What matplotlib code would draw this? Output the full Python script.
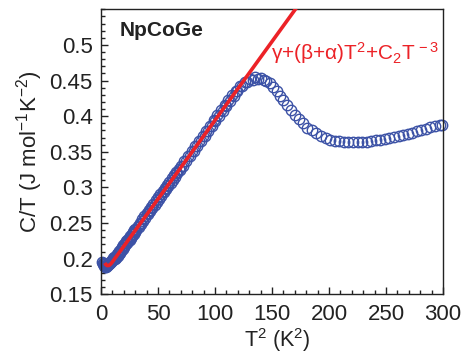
import matplotlib
matplotlib.use("Agg")
import matplotlib.pyplot as plt
from matplotlib.ticker import MultipleLocator

plt.rcParams['font.family'] = ['Liberation Sans', 'DejaVu Sans']
plt.rcParams['mathtext.fontset'] = 'custom'
plt.rcParams['mathtext.rm'] = 'Liberation Sans'
plt.rcParams['mathtext.it'] = 'Liberation Sans:italic'
plt.rcParams['mathtext.bf'] = 'Liberation Sans:bold'

# measured data: T^2 (K^2) and C/T (J mol^-1 K^-2)
t2_data = [1.2, 1.6, 2.0, 2.4, 2.8, 3.2, 3.6, 4.0, 4.4, 4.8, 5.2, 5.6, 6.0,
           6.4, 6.8, 7.2, 7.6, 8.0, 8.5, 9.0, 9.5, 10.0, 10.5, 11.0, 11.5,
           12.0, 12.5, 13.0, 13.5, 14.0, 14.5, 15.0, 15.5, 16.0, 16.6, 17.2,
           17.8, 18.4, 19.0, 19.6, 20.2, 20.8, 21.4, 22.0, 22.6, 23.2, 23.8,
           24.4, 25.0, 25.6, 26.2, 26.8, 27.4, 28.0, 28.6, 29.2, 29.8,
           30.0, 31.0, 32.0, 33.0, 34.0, 35.0, 36.0, 37.0, 38.0, 39.0, 40.0,
           41.0, 42.0, 43.0, 44.0, 45.0, 46.0, 47.0, 48.0, 49.0, 50.0, 51.0,
           52.0, 53.0, 54.0, 55.0, 56.0, 57.0, 58.0, 59.0, 60.0, 61.0, 62.0,
           63.0, 64.0, 65.0, 66.0, 67.0, 68.0, 69.0, 70.0,
           71.6, 73.2, 74.8, 76.4, 78.0, 79.6, 81.2, 82.8, 84.4, 86.0, 87.6,
           89.2, 90.8, 92.4, 94.0, 95.6, 97.2, 98.8, 100.4, 102.0, 103.6,
           105.2, 106.8, 108.4, 110.0, 111.6, 113.2, 114.8, 116.4, 118.0,
           119.6, 121.5, 123.8, 126.1, 128.4, 130.7, 133.0, 135.4, 137.8,
           140.2, 142.6, 145.0, 148.0, 151.0, 154.0, 157.0, 160.0, 163.5,
           167.0, 170.5, 174.0, 177.5, 181.0, 185.0, 189.0, 193.0, 197.0,
           201.0, 205.0, 209.0, 213.0, 217.0, 221.0, 225.0, 229.0, 233.0,
           237.0, 241.0, 245.0, 249.0, 253.0, 257.0, 261.0, 265.0, 269.0,
           273.0, 277.0, 281.0, 285.0, 289.0, 293.0, 297.0, 299.0]
ct_data = [0.195, 0.192, 0.194, 0.190, 0.193, 0.189, 0.192, 0.189, 0.191,
           0.1895, 0.1915, 0.190, 0.1925, 0.191, 0.1935, 0.192, 0.1945,
           0.1935, 0.1965, 0.195, 0.1985, 0.197, 0.2005, 0.199, 0.2025,
           0.2015, 0.1995, 0.2040, 0.2015, 0.2062, 0.2037, 0.2085, 0.2060,
           0.2108, 0.2083, 0.2135, 0.2110, 0.2162, 0.2136, 0.2188, 0.2162,
           0.2215, 0.2189, 0.2242, 0.2215, 0.2268, 0.2242, 0.2295, 0.2268,
           0.2322, 0.2295, 0.2348, 0.2321, 0.2375, 0.2348, 0.2401, 0.2374,
           0.2418, 0.2400, 0.2462, 0.2444, 0.2507, 0.2488, 0.2552, 0.2533,
           0.2596, 0.2577, 0.2640, 0.2621, 0.2685, 0.2665, 0.2729, 0.2709,
           0.2773, 0.2754, 0.2817, 0.2798, 0.2861, 0.2842, 0.2905, 0.2886,
           0.2950, 0.2930, 0.2994, 0.2975, 0.3038, 0.3019, 0.3082, 0.3063,
           0.3126, 0.3107, 0.3171, 0.3151, 0.3215, 0.3196, 0.3259, 0.3240,
           0.3303,
           0.3297, 0.3374, 0.3368, 0.3445, 0.3439, 0.3516, 0.3510, 0.3587,
           0.3580, 0.3657, 0.3651, 0.3728, 0.3722, 0.3799, 0.3792, 0.3869,
           0.3863, 0.3940, 0.3934, 0.4010, 0.4005, 0.4081, 0.4075, 0.4152,
           0.4146, 0.4222, 0.4217, 0.4292, 0.4287, 0.4360, 0.4355,
           0.4425, 0.4420, 0.4485, 0.4475, 0.4525, 0.4510, 0.4545, 0.4525,
           0.4535, 0.4505, 0.4495, 0.446, 0.441, 0.435, 0.429, 0.423, 0.416,
           0.409, 0.402, 0.396, 0.390, 0.384, 0.380, 0.376, 0.372, 0.369,
           0.367, 0.3655, 0.3645, 0.364, 0.3635, 0.3635, 0.3635, 0.3637,
           0.364, 0.3648, 0.366, 0.367, 0.368, 0.3695, 0.371, 0.3725, 0.374,
           0.3755, 0.377, 0.379, 0.3805, 0.382, 0.3845, 0.386, 0.3875, 0.388]

# fitted curve
t2_fit = [3.3, 4.3, 5.5, 7.0, 8.5, 10.0, 12.0, 15.0, 20.0, 30.0, 50.0, 75.0,
          100.0, 125.0, 150.0, 170.0, 172.0]
ct_fit = [0.194, 0.1915, 0.1903, 0.1905, 0.1925, 0.1955, 0.200, 0.2065,
          0.2175, 0.2396, 0.2838, 0.3390, 0.3943, 0.4495, 0.5048, 0.549,
          0.5534]

y_ticks = [0.15, 0.2, 0.25, 0.3, 0.35, 0.4, 0.45, 0.5]
y_tick_labels = ['0.15', '0.2', '0.25', '0.3', '0.35', '0.4', '0.45', '0.5']
sample_label = "NpCoGe"
fit_label = r"$\mathrm{γ{+}(β{+}α)T^2{+}C_2T^{\,-3}}$"

fig = plt.figure(figsize=(4.63, 3.54), dpi=100)
ax = fig.add_axes([0.2182, 0.1686, 0.9568 - 0.2182, 0.9737 - 0.1686])

ax.plot(t2_data, ct_data, linestyle='none', marker='o', markersize=7.5,
        markerfacecolor='none', markeredgecolor='#3c52a6', markeredgewidth=1.0,
        clip_on=False, zorder=2)
ax.plot(t2_fit, ct_fit, color='#ec2227', linewidth=2.6, zorder=3,
        solid_capstyle='butt')

ax.set_xlim(0, 300)
ax.set_ylim(0.15, 0.55)
ax.xaxis.set_major_locator(MultipleLocator(50))
ax.xaxis.set_minor_locator(MultipleLocator(10))
ax.yaxis.set_minor_locator(MultipleLocator(0.01))
ax.set_yticks(y_ticks)
ax.set_yticklabels(y_tick_labels)
ax.tick_params(which='both', direction='in', top=False, right=False,
               labelsize=16, colors='#222222', width=1.0)
ax.tick_params(which='major', length=5, pad=6)
ax.tick_params(axis='x', which='major', pad=7)
ax.tick_params(which='minor', length=3)
for s in ax.spines.values():
    s.set_linewidth(1.0)
    s.set_color('#222222')

ax.set_xlabel(r"T$^2$ (K$^2$)", fontsize=15.5, color='#222222')
ax.xaxis.set_label_coords(0.515, -0.112)
ax.xaxis.label.set_va('top')
ax.set_ylabel(r"C/T (J mol$^{-1}$K$^{-2}$)", fontsize=16, color='#222222',
              labelpad=3)

ax.text(16.0, 0.513, sample_label, fontsize=15, fontweight='bold',
        color='#222222')
ax.text(149, 0.479, fit_label, fontsize=15, color='#ec2227')

fig.savefig("out.png", dpi=100)
